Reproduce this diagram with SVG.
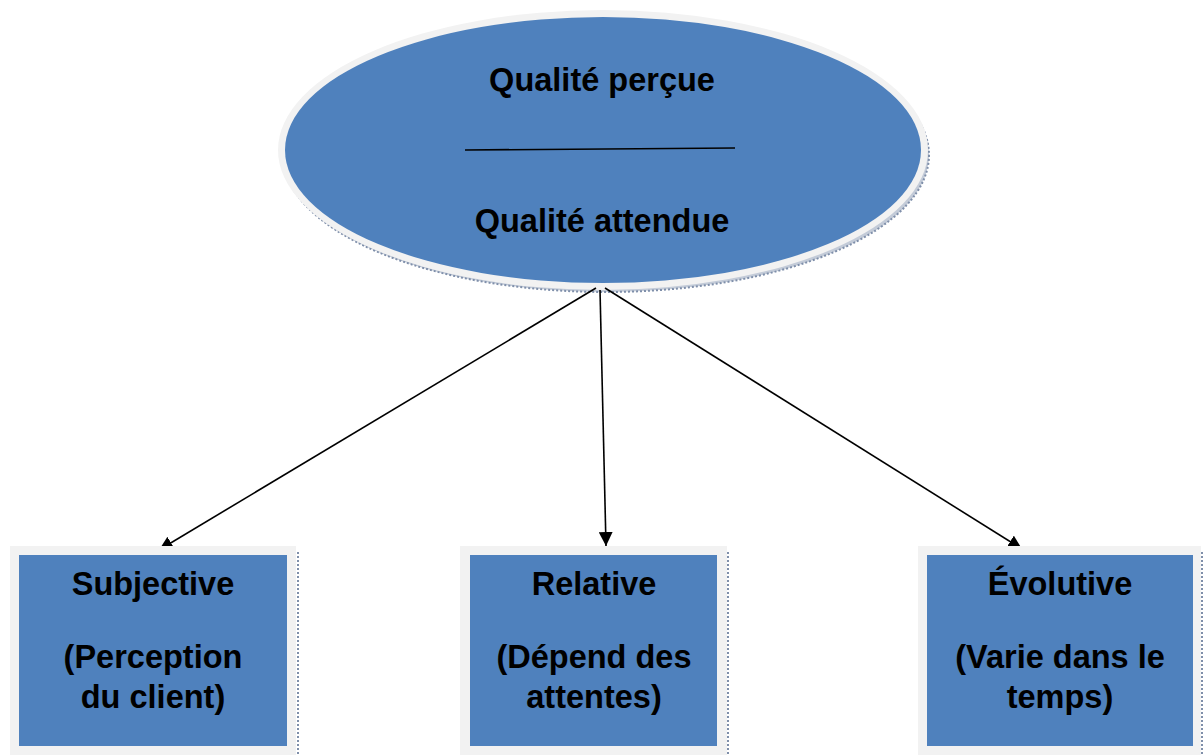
<svg xmlns="http://www.w3.org/2000/svg" width="1203" height="755" viewBox="0 0 1203 755">
<defs>
<style>
.t{font-family:"Liberation Sans",Arial,sans-serif;font-weight:bold;font-size:32.5px;fill:#000;text-anchor:middle}
.blue{fill:#4F81BD}
.frame{fill:#F2F2F2}
.sh{fill:none;stroke:#7F8FAA;stroke-width:2;stroke-dasharray:2 2}
.conn{stroke:#000;stroke-width:1.6;fill:none}
</style>
<marker id="ah" viewBox="0 0 10 10" refX="10" refY="5" markerWidth="14" markerHeight="14" markerUnits="userSpaceOnUse" orient="auto">
<path d="M0,0 L10,5 L0,10 z" fill="#000"/>
</marker>
</defs>
<rect width="1203" height="755" fill="#fff"/>
<g id="ellipse-node">
<ellipse cx="606" cy="155" rx="323" ry="137" fill="#C3CBD8" stroke="#7F8FAA" stroke-width="2" stroke-dasharray="2 2"/>
<ellipse cx="603" cy="150" rx="325" ry="140" fill="#F2F2F2"/>
<ellipse cx="603" cy="150" rx="318" ry="133" class="blue"/>
<line x1="465" y1="150" x2="735" y2="148" stroke="#000" stroke-width="1.6"/>
<text class="t" x="602" y="91">Qualité perçue</text>
<text class="t" x="602" y="232">Qualité attendue</text>
</g>
<g id="connectors">
<line class="conn" x1="596" y1="288" x2="159" y2="550" marker-end="url(#ah)"/>
<line class="conn" x1="600" y1="290" x2="606" y2="546" marker-end="url(#ah)"/>
<line class="conn" x1="605" y1="288" x2="1022" y2="549" marker-end="url(#ah)"/>
</g>
<g id="box-subjective">
<line x1="298" y1="552" x2="298" y2="755" class="sh" stroke-width="1.5"/>
<rect x="10" y="546" width="286" height="209" class="frame"/>
<rect x="19" y="555" width="268" height="191" class="blue"/>
<text class="t" x="153" y="595">Subjective</text>
<text class="t" x="153" y="668">(Perception</text>
<text class="t" x="153" y="708">du client)</text>
</g>
<g id="box-relative">
<line x1="728" y1="552" x2="728" y2="755" class="sh" stroke-width="1.5"/>
<rect x="460" y="546" width="267" height="209" class="frame"/>
<rect x="470" y="555" width="247" height="191" class="blue"/>
<text class="t" x="594" y="595">Relative</text>
<text class="t" x="594" y="668">(Dépend des</text>
<text class="t" x="594" y="708">attentes)</text>
</g>
<g id="box-evolutive">
<line x1="1202" y1="552" x2="1202" y2="755" class="sh" stroke-width="1.5"/>
<rect x="918" y="546" width="283" height="209" class="frame"/>
<rect x="927" y="555" width="266" height="191" class="blue"/>
<text class="t" x="1060" y="595">Évolutive</text>
<text class="t" x="1060" y="668">(Varie dans le</text>
<text class="t" x="1060" y="708">temps)</text>
</g>
</svg>
